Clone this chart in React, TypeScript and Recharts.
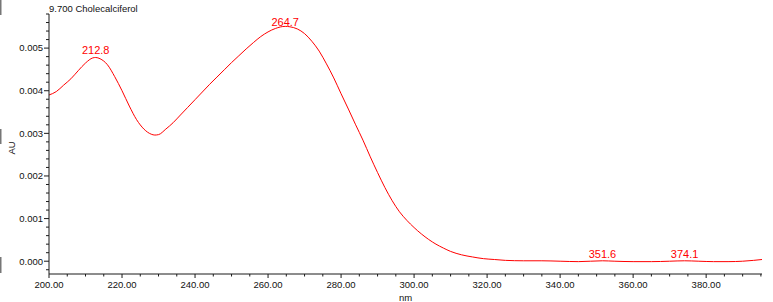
import React from 'react';
import { LineChart, Line, XAxis, YAxis, ReferenceDot } from 'recharts';

// spectrum (nm / AU)
const wavelengths = [
  200, 202, 204, 206, 208, 210, 212, 212.8, 214, 216, 218, 220, 222, 224, 226, 228, 229, 230,
  232, 234, 236, 238, 240, 242, 244, 246, 248, 250, 252, 254, 256, 258, 260, 262, 264.7, 266,
  268, 270, 272, 274, 276, 278, 280, 282, 284, 286, 288, 290, 292, 294, 296, 298, 300, 302,
  304, 306, 308, 310, 313, 316, 319, 322, 325, 330, 335, 340, 345, 351.6, 355, 360, 365, 370,
  374.1, 378, 382, 386, 390, 393, 395.3,
];
const absorbance = [
  0.0039, 0.00398, 0.00413, 0.00428, 0.00447, 0.00465, 0.00477, 0.00478, 0.00475, 0.00461,
  0.00433, 0.004, 0.00364, 0.00332, 0.0031, 0.00298, 0.00296, 0.00297, 0.0031, 0.00325,
  0.00343, 0.00361, 0.00379, 0.00397, 0.00415, 0.00432, 0.00449, 0.00466, 0.00482, 0.00498,
  0.00513, 0.00527, 0.00538, 0.00546, 0.00551, 0.0055, 0.00545, 0.00534, 0.00516, 0.00493,
  0.00463, 0.0043, 0.00393, 0.00357, 0.0032, 0.00284, 0.00245, 0.00208, 0.00173, 0.00142,
  0.00116, 0.00096, 0.00079, 0.00064, 0.00051, 0.0004, 0.00031, 0.00023, 0.00015, 0.0001,
  0.00006, 0.00004, 0.00002, 0.00001, 0.00001, 0, -0.00001, 0.00001, 0, -0.00001, -0.00001, 0,
  0.00001, 0, -0.00001, -0.00001, 0, 0.00002, 0.00004,
];

// labelled maxima
const peakNm = [212.8, 264.7, 351.6, 374.1];
const peakAu = [0.00478, 0.00551, 0.00001, 0.00001];
const peakOffset = [3, 0, 3, 3];

const xTicks = [
  200, 205, 210, 215, 220, 225, 230, 235, 240, 245, 250, 255, 260, 265, 270, 275, 280, 285,
  290, 295, 300, 305, 310, 315, 320, 325, 330, 335, 340, 345, 350, 355, 360, 365, 370, 375,
  380, 385, 390, 395,
];
const xLabelled = [200, 220, 240, 260, 280, 300, 320, 340, 360, 380];
const yTicks = [
  -0.0002, 0, 0.0002, 0.0004, 0.0006, 0.0008, 0.001, 0.0012, 0.0014, 0.0016, 0.0018, 0.002,
  0.0022, 0.0024, 0.0026, 0.0028, 0.003, 0.0032, 0.0034, 0.0036, 0.0038, 0.004, 0.0042,
  0.0044, 0.0046, 0.0048, 0.005, 0.0052, 0.0054, 0.0056, 0.0058,
];
const yLabelled = [0, 0.001, 0.002, 0.003, 0.004, 0.005];

const X_DOMAIN: [number, number] = [200, 395.3];
const Y_DOMAIN: [number, number] = [-0.0003, 0.0058];

const FONT = '"Liberation Sans", Arial, sans-serif';
const AXIS = '#1a1a1a';
const TEXT = '#111';
const RED = '#ff0000';

const data = wavelengths.map((nm, i) => ({ nm, au: absorbance[i] }));

const near = (list: number[], v: number) => list.some((t) => Math.abs(t - v) < 1e-9);

const XTick = (props: any) => {
  const { x, y, payload } = props;
  const major = near(xLabelled, payload.value);
  return (
    <g>
      <line x1={x} x2={x} y1={y} y2={y + (major ? 4 : 2.5)} stroke={AXIS} />
      {major && (
        <text x={x} y={y + 13.5} textAnchor="middle" fontSize={9.5} fontFamily={FONT} fill={TEXT}>
          {payload.value.toFixed(2)}
        </text>
      )}
    </g>
  );
};

const YTick = (props: any) => {
  const { x, y, payload } = props;
  const major = near(yLabelled, payload.value);
  return (
    <g>
      <line x1={x - (major ? 5 : 3)} x2={x} y1={y} y2={y} stroke={AXIS} />
      {major && (
        <text x={x - 6} y={y + 3.4} textAnchor="end" fontSize={9.5} fontFamily={FONT} fill={TEXT}>
          {payload.value.toFixed(3)}
        </text>
      )}
    </g>
  );
};

export default function App() {
  return (
    <div style={{ position: 'absolute', left: 0, top: 0, width: 773, height: 302, background: '#fff' }}>
      <LineChart
        width={773}
        height={302}
        data={data}
        margin={{ top: 14, right: 11, bottom: 0, left: 0 }}
      >
        <XAxis
          xAxisId="main"
          dataKey="nm"
          type="number"
          domain={X_DOMAIN}
          allowDataOverflow
          ticks={xTicks}
          interval={0}
          height={28}
          tickSize={0}
          tickMargin={0}
          tickLine={false}
          tick={<XTick />}
          axisLine={{ stroke: AXIS }}
        />
        <XAxis
          xAxisId="top"
          orientation="top"
          type="number"
          domain={X_DOMAIN}
          height={0}
          tick={false}
          tickLine={false}
          axisLine={{ stroke: AXIS }}
        />
        <YAxis
          yAxisId="main"
          type="number"
          domain={Y_DOMAIN}
          allowDataOverflow
          ticks={yTicks}
          interval={0}
          width={49}
          tickSize={0}
          tickMargin={0}
          tickLine={false}
          tick={<YTick />}
          axisLine={{ stroke: AXIS }}
        />
        <YAxis
          yAxisId="right"
          orientation="right"
          type="number"
          domain={Y_DOMAIN}
          width={0}
          tick={false}
          tickLine={false}
          axisLine={{ stroke: AXIS }}
        />
        <Line
          xAxisId="main"
          yAxisId="main"
          type="monotone"
          dataKey="au"
          stroke={RED}
          strokeWidth={1}
          dot={false}
          activeDot={false}
          isAnimationActive={false}
        />
        {peakNm.map((nm, i) => (
          <ReferenceDot
            key={nm}
            xAxisId="main"
            yAxisId="main"
            x={nm}
            y={peakAu[i]}
            r={0}
            fill="none"
            stroke="none"
            label={{
              value: nm.toFixed(1),
              position: 'top',
              offset: peakOffset[i],
              fill: RED,
              fontSize: 11,
              fontFamily: FONT,
            }}
          />
        ))}
      </LineChart>
      <svg
        width={773}
        height={302}
        style={{ position: 'absolute', left: 0, top: 0, pointerEvents: 'none' }}
      >
        <text x={49} y={12} fontSize={9.5} fontFamily={FONT} fill={TEXT}>
          9.700 Cholecalciferol
        </text>
        <text
          x={14.5}
          y={148}
          transform="rotate(-90 14.5 148)"
          textAnchor="middle"
          fontSize={9.5}
          fontFamily={FONT}
          fill={TEXT}
        >
          AU
        </text>
        <text x={405.5} y={300.5} textAnchor="middle" fontSize={9.5} fontFamily={FONT} fill={TEXT}>
          nm
        </text>
        <rect x={0} y={0} width={1.5} height={15} fill="#777" />
        <rect x={0} y={129} width={1.5} height={15} fill="#777" />
        <rect x={0} y={257} width={1.5} height={16} fill="#777" />
      </svg>
    </div>
  );
}
